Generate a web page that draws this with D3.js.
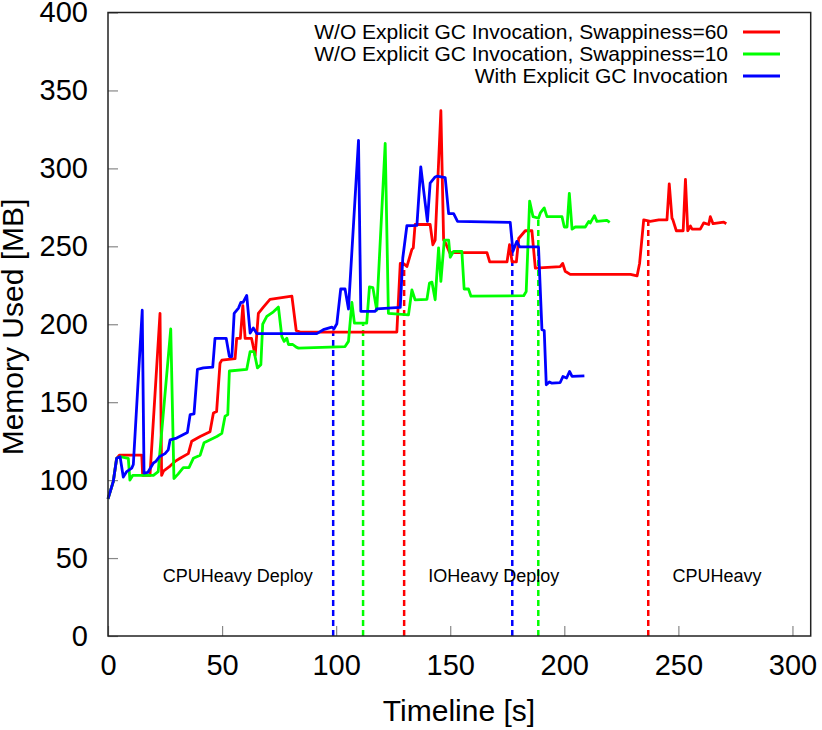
<!DOCTYPE html>
<html>
<head>
<meta charset="utf-8">
<script src="https://cdnjs.cloudflare.com/ajax/libs/d3/7.8.5/d3.min.js"></script>
<style>
body { margin: 0; background: #fff; }
text { font-family: "Liberation Sans", Arial, Helvetica, sans-serif; fill: #000; }
</style>
</head>
<body>
<script>
// series: [time (s), memory (MB)]
var swap60 = [[0,88],[2.3,99],[3.8,114],[5,116],[14.8,116],[15.2,103],[18.4,103],[22.8,207],[23.5,103],[24.4,106],[27.2,109],[29.4,112],[31.6,114],[35.2,117],[36.7,125],[40.4,128],[44.7,131],[46.2,143],[47.6,144],[49.1,175],[49.9,177],[55.7,178],[56.4,191],[58,191],[59.1,212],[60.1,191],[62.9,191],[64.5,180],[65.9,207],[68.1,211],[71,216],[80.6,218],[82.5,196],[84.2,195],[125.1,195],[126.6,195],[128.1,239],[129.5,239],[131,237],[133.2,248],[133.8,249],[134.6,264],[141.2,264],[142.4,251],[143.4,254],[145.9,337],[147.1,254],[148,252],[149.7,246],[166.1,246],[167.3,240],[174.9,240],[176,251],[177.1,240],[179,240],[180,255],[182.9,260],[185.8,260],[187.3,236],[198.2,237],[199.3,239],[200.4,234],[202.6,232],[229,232],[231.9,231],[233,239],[234.8,267],[237.7,266],[241.4,267],[245,267],[246,290],[247.2,268],[247.6,267],[249.1,260],[252.1,260],[253.1,293],[254.1,260],[255.3,263],[256,261],[259.6,261],[261.1,265],[263.3,264],[264,269],[265.2,264.5],[269.9,265.5],[271,264.5]];

var swap10 = [[0,88],[2.3,99],[3.8,114],[5.3,115],[8.9,114],[9.6,100],[10.8,103],[19.9,103],[22,105.5],[27.5,197],[28.9,101],[30.8,104],[33,108],[35.5,108],[37.4,114],[40.4,116],[42.1,124],[47.7,128],[49.9,130],[51.3,141],[52.5,142],[53.2,170],[60.8,171],[62.3,182.5],[64,182.5],[65.5,172],[67,174],[67.8,200],[69.6,205],[72.5,208],[74.7,211],[76.2,192],[77.2,189],[78.4,191],[79.1,187],[81,187],[82.5,185.3],[83.5,184.7],[103.9,185.7],[105.4,189],[106.9,214],[108,200.7],[113.4,200.7],[114.6,224],[116.1,223.5],[117.8,209],[121.5,316],[122.9,207],[131.7,206],[133.2,222],[134.6,215.7],[139.8,216],[140.9,226.4],[142,227],[143.4,215.7],[144.9,249],[145.9,227.5],[147.4,254],[149.3,254],[150,243],[151.5,246.8],[155.1,246.8],[156.1,222.6],[158,222.6],[159.1,218],[182.2,218.3],[183.3,221],[184.8,279],[186.3,269],[188.7,268],[189.5,271.4],[191.2,274.6],[192.4,269],[199,269],[200,262.4],[201.2,262.4],[202.2,284],[203.4,261],[204.8,262.4],[209.2,262.4],[210.7,266],[211.4,265],[213.2,269.7],[214.3,266],[218.7,266.7],[219.9,265.4]];

var explicitGC = [[0,88],[2.3,99],[3.8,114],[5.3,115],[6.7,102],[8.2,105.5],[10.4,107.7],[11.1,110],[15,209],[15.8,104.5],[17.5,105],[19.9,111],[21,112],[22.5,115],[25,117],[26.4,119.4],[27.2,125.8],[30.1,127],[34.8,130.5],[36,142],[37.7,142.5],[39.2,171],[41.8,172],[45.9,172.5],[46.9,191],[51.8,191],[53.2,179.3],[54.3,179.3],[55.3,207],[57.2,210.4],[58.2,214],[59.2,214],[60.8,218.5],[62.3,194.3],[63.7,197.6],[65.2,194],[91.5,194],[94.4,196.5],[98.1,198.2],[99,197],[100.3,200.3],[102,222.6],[103.9,222.6],[105.4,209.8],[109.8,318],[110.8,208.3],[117.1,208.3],[117.8,209.8],[128.1,210.8],[129.2,242.5],[131,263.2],[135.4,263.4],[137.1,301],[140,266],[141.2,290.6],[143.4,294.5],[144.2,295],[147.8,294],[149.3,271],[151.5,271],[153.2,266],[176.3,265.4],[177.5,246.8],[179.2,253.2],[180.4,249.6],[188.7,249.6],[190.2,196.5],[191.2,196],[192.1,161.2],[193.5,163],[194.6,162.2],[198.2,162.6],[199.4,166.5],[201,165.5],[202.3,169.7],[203.4,166.5],[208.8,166.9]];

var seriesNames = ["W/O Explicit GC Invocation, Swappiness=60", "W/O Explicit GC Invocation, Swappiness=10", "With Explicit GC Invocation"];

// phase change markers (dashed verticals)
var markerTimes = [98.7, 111.8, 129.8, 177.2, 188.6, 236.8];
var markerTops = [196, 200, 239, 250, 268, 266];
var markerSeries = [2, 1, 0, 2, 1, 0];

var phaseLabels = ["CPUHeavy Deploy", "IOHeavy Deploy", "CPUHeavy"];
var phaseTimes = [24, 140.4, 247.4];
var phaseY = 39;

var xTicks = [0, 50, 100, 150, 200, 250, 300];
var yTicks = [0, 50, 100, 150, 200, 250, 300, 350, 400];

var width = 822;
var height = 730;
var plotLeft = 108, plotRight = 810.7, plotTop = 12.5, plotBottom = 636;
var colors = ["#ff0000", "#00ff00", "#0000ff"];

var svg = d3.select("body").append("svg")
            .attr("width", width)
            .attr("height", height);

var x = d3.scaleLinear().domain([0, 308]).range([plotLeft, plotRight]);
var y = d3.scaleLinear().domain([0, 400]).range([plotBottom, plotTop]);

// tick marks (inward) and labels
var xAxis = d3.axisBottom(x).tickValues(xTicks).tickSize(-10).tickPadding(12);
var gx = svg.append("g")
   .attr("transform", "translate(0," + plotBottom + ")")
   .call(xAxis);
var yAxis = d3.axisLeft(y).tickValues(yTicks).tickSize(-10).tickPadding(20);
var gy = svg.append("g")
   .attr("transform", "translate(" + plotLeft + ",0)")
   .call(yAxis);

[gx, gy].forEach(function(g) {
    g.select(".domain").remove();
    g.selectAll(".tick line").attr("stroke", "#888").attr("stroke-width", 1.2);
    g.selectAll(".tick text")
     .style("font-family", "'Liberation Sans', Arial, sans-serif")
     .style("font-size", "29px")
     .attr("fill", "#000");
});
gx.selectAll(".tick text").attr("dy", "0.92em");

// dashed markers
svg.selectAll(".marker")
   .data(markerTimes)
   .enter()
   .append("line")
   .attr("class", "marker")
   .attr("x1", function(d) { return x(d); })
   .attr("x2", function(d) { return x(d); })
   .attr("y1", y(0))
   .attr("y2", function(d, i) { return y(markerTops[i]); })
   .attr("stroke", function(d, i) { return colors[markerSeries[i]]; })
   .attr("stroke-width", 2.5)
   .attr("stroke-dasharray", "6,4");

// lines
var line = d3.line()
             .x(function(d) { return x(d[0]); })
             .y(function(d) { return y(d[1]); });

[swap60, swap10, explicitGC].forEach(function(s, i) {
    svg.append("path")
       .datum(s)
       .attr("d", line)
       .attr("fill", "none")
       .attr("stroke", colors[i])
       .attr("stroke-width", 2.8)
       .attr("stroke-linejoin", "round");
});

// phase labels
svg.selectAll(".phase")
   .data(phaseLabels)
   .enter()
   .append("text")
   .attr("class", "phase")
   .attr("x", function(d, i) { return x(phaseTimes[i]); })
   .attr("y", y(phaseY))
   .attr("dy", "0.35em")
   .style("font-size", "18px")
   .text(function(d) { return d; });

// frame
svg.append("rect")
   .attr("x", plotLeft)
   .attr("y", plotTop)
   .attr("width", plotRight - plotLeft)
   .attr("height", plotBottom - plotTop)
   .attr("fill", "none")
   .attr("stroke", "#222")
   .attr("stroke-width", 1.5);

// legend
var legend = svg.selectAll(".legend")
   .data(seriesNames)
   .enter()
   .append("g")
   .attr("class", "legend")
   .attr("transform", function(d, i) { return "translate(0," + (32 + i * 22) + ")"; });
legend.append("text")
   .attr("x", 728)
   .attr("dy", "0.35em")
   .style("text-anchor", "end")
   .style("font-size", "21px")
   .text(function(d) { return d; });
legend.append("line")
   .attr("x1", 743)
   .attr("x2", 780)
   .attr("stroke", function(d, i) { return colors[i]; })
   .attr("stroke-width", 2.8);

// axis titles
svg.append("text")
   .attr("x", 459)
   .attr("y", 721)
   .style("text-anchor", "middle")
   .style("font-size", "30px")
   .text("Timeline [s]");
svg.append("text")
   .attr("transform", "translate(23,327) rotate(-90)")
   .style("text-anchor", "middle")
   .style("font-size", "30px")
   .text("Memory Used [MB]");
</script>
</body>
</html>
